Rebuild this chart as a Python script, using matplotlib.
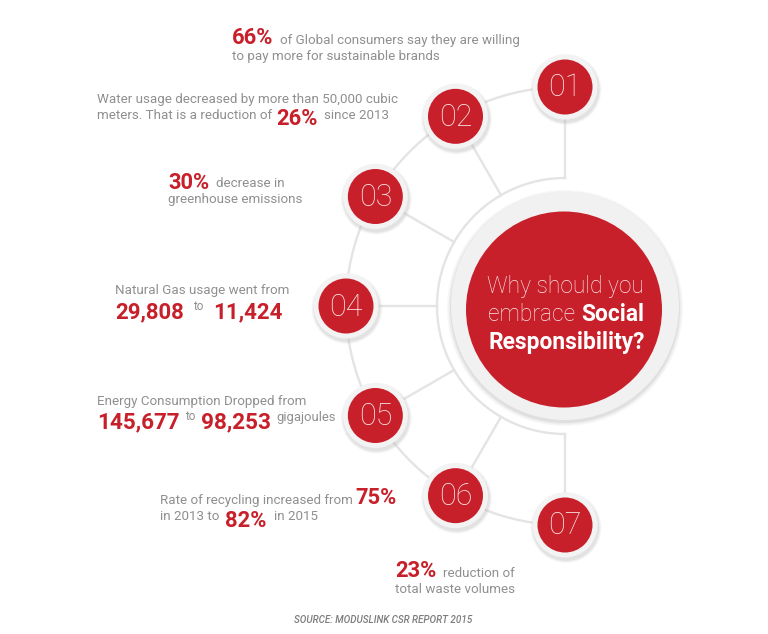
import numpy as np
import matplotlib
matplotlib.use('Agg')
import matplotlib.pyplot as plt
from matplotlib.patches import Circle

# textos do infografico
node_labels = ['01', '02', '03', '04', '05', '06', '07']
node_angles = [90, 120, 150, 180, 210, 240, 270]
highlights = ['66%', '26%', '30%', '29,808', '11,424', '145,677', '98,253', '75%', '82%', '23%']
source_text = 'SOURCE: MODUSLINK CSR REPORT 2015'

RED = '#c8202a'
GREY = '#8f8f8f'
LINE = '#e4e4e4'
CX, CY = 565, 306
R_NODES = 219
R_INNER = 128

plt.rcParams['font.family'] = ['Roboto', 'DejaVu Sans']

fig = plt.figure(figsize=(7.68, 6.34), dpi=100)
ax = fig.add_axes([0, 0, 1, 1])
ax.set_xlim(0, 768)
ax.set_ylim(634, 0)
ax.axis('off')


def polar(r, ang):
    a = np.radians(ang)
    return CX + r * np.cos(a), CY - r * np.sin(a)


def body(x, y, s, size=9.6):
    ax.text(x, y, s, color=GREY, fontsize=size, va='baseline', ha='left')


def big(x, y, s, size=15.8):
    ax.text(x, y, s, color=RED, fontsize=size, fontweight='bold', va='baseline', ha='left')


def disc(x, y, r, color, z):
    ax.add_patch(Circle((x, y), r, facecolor=color, edgecolor='none', zorder=z))


# linhas de ligacao
ang = np.linspace(90, 270, 200)
x, y = polar(R_NODES, ang)
ax.plot(x, y, color=LINE, lw=1.7, zorder=1)
x, y = polar(R_INNER, ang)
ax.plot(x, y, color=LINE, lw=1.7, zorder=1)
for a in node_angles:
    x, y = polar(np.array([R_INNER, R_NODES]), a)
    ax.plot(x, y, color=LINE, lw=1.7, zorder=1)

# circulo central
disc(CX, CY, 126, 'white', 1.5)
for r, alpha in [(118, 0.10), (116.5, 0.15), (115, 0.25)]:
    ax.add_patch(Circle((CX, CY + 2), r, facecolor='#b8b8b8', edgecolor='none', alpha=alpha, zorder=2))
disc(CX, CY, 114, '#f1f1f1', 3)
disc(CX - 1, CY + 3.5, 98, RED, 4)

# nos numerados
for label, a in zip(node_labels, node_angles):
    x, y = polar(R_NODES, a)
    for r, alpha in [(35.5, 0.10), (34.5, 0.15), (33.5, 0.25)]:
        ax.add_patch(Circle((x + 1, y + 2.5), r, facecolor='#bdbdbd', edgecolor='none', alpha=alpha, zorder=5))
    disc(x, y, 32.5, '#f3f3f3', 6)
    disc(x, y, 27.5, RED, 7)
    ax.text(x, y + 1, label, color='#f9e4e4', fontsize=22, fontweight='light',
            ha='center', va='center', zorder=8)

# texto central
ax.text(487, 293, 'Why should you', color='#f8e6e6', fontsize=16.4, fontweight='light', zorder=8)
ax.text(488, 321, 'embrace', color='#f8e6e6', fontsize=16.4, fontweight='light', zorder=8)
ax.text(581, 321, 'Social', color='white', fontsize=16.4, fontweight='bold', zorder=8)
ax.text(488, 349, 'Responsibility?', color='white', fontsize=16.4, fontweight='bold', zorder=8)

# 01
big(232, 44, highlights[0])
body(280, 44, 'of Global consumers say they are willing')
body(232, 60, 'to pay more for sustainable brands')
# 02
body(97, 103, 'Water usage decreased by more than 50,000 cubic')
body(97, 119, 'meters. That is a reduction of')
big(276, 125, highlights[1])
body(324, 119, 'since 2013')
# 03
big(168, 189, highlights[2])
body(216, 187, 'decrease in')
body(168, 203, 'greenhouse emissions')
# 04
body(115, 294, 'Natural Gas usage went from')
big(115, 318, highlights[3], 16)
body(193, 310, 'to', 8.5)
big(213, 318, highlights[4], 16)
# 05
body(97, 405, 'Energy Consumption Dropped from')
big(97, 428, highlights[5], 16.2)
body(185, 420, 'to', 8.5)
big(201, 428, highlights[6], 16.2)
body(276, 421, 'gigajoules', 9.4)
# 06
body(160, 504, 'Rate of recycling increased from')
big(355, 504, highlights[7])
body(160, 520, 'in 2013 to')
big(225, 527, highlights[8])
body(274, 520, 'in 2015')
# 07
big(395, 577, highlights[9])
body(443, 577, 'reduction of')
body(395, 593, 'total waste volumes')

ax.text(294, 623, source_text, color='#7d7d7d', fontsize=7.1, fontstyle='italic', fontweight='medium')

fig.savefig('out.png', dpi=100)
